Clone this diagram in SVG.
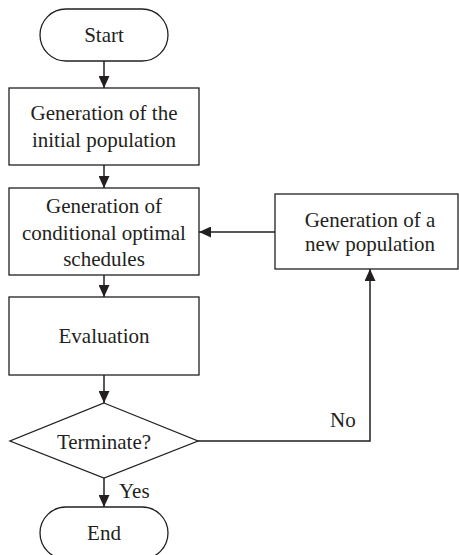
<svg xmlns="http://www.w3.org/2000/svg" width="459" height="555" viewBox="0 0 459 555">
<style>
.shape{fill:#fff;stroke:#231f20;stroke-width:1.3}
.t{font-family:"Liberation Serif","Times New Roman",serif;font-size:21px;fill:#231f20;text-anchor:middle}
.lbl{font-family:"Liberation Serif","Times New Roman",serif;font-size:21px;fill:#231f20}
.conn{fill:none;stroke:#231f20;stroke-width:1.5}
</style>
<defs>
<marker id="arr" markerUnits="userSpaceOnUse" markerWidth="12" markerHeight="11" refX="12" refY="5.5" orient="auto">
<path d="M0,0 L12,5.5 L0,11 z" fill="#231f20"/>
</marker>
</defs>
<rect width="459" height="555" fill="#fff"/>
<g id="connectors">
<line class="conn" x1="104" y1="61" x2="104" y2="88" marker-end="url(#arr)"/>
<line class="conn" x1="104" y1="165" x2="104" y2="188" marker-end="url(#arr)"/>
<line class="conn" x1="104" y1="275" x2="104" y2="297" marker-end="url(#arr)"/>
<line class="conn" x1="104" y1="375" x2="104" y2="403" marker-end="url(#arr)"/>
<line class="conn" x1="104" y1="478" x2="104" y2="507" marker-end="url(#arr)"/>
<polyline class="conn" points="198,441 370,441 370,269" marker-end="url(#arr)"/>
<line class="conn" x1="275" y1="232" x2="199" y2="232" marker-end="url(#arr)"/>
<text class="lbl" x="119" y="498">Yes</text>
<text class="lbl" x="330" y="427">No</text>
</g>
<g id="start">
<rect class="shape" x="40" y="9" width="128" height="52" rx="26" ry="26"/>
<text class="t" x="104" y="42">Start</text>
</g>
<g id="init">
<rect class="shape" x="9" y="88" width="190" height="77"/>
<text class="t" x="104" y="120">Generation of the</text>
<text class="t" x="104" y="147">initial population</text>
</g>
<g id="cond">
<rect class="shape" x="9" y="188" width="190" height="87"/>
<text class="t" x="104" y="213">Generation of</text>
<text class="t" x="104" y="240">conditional optimal</text>
<text class="t" x="104" y="266">schedules</text>
</g>
<g id="eval">
<rect class="shape" x="9" y="297" width="190" height="78"/>
<text class="t" x="104" y="343">Evaluation</text>
</g>
<g id="terminate">
<polygon class="shape" points="104,403 198,441 104,478 10,441"/>
<text class="t" x="104" y="449">Terminate?</text>
</g>
<g id="newpop">
<rect class="shape" x="275" y="194" width="183" height="75"/>
<text class="t" x="370" y="227">Generation of a</text>
<text class="t" x="370" y="251">new population</text>
</g>
<g id="end">
<rect class="shape" x="40" y="507" width="128" height="52" rx="26" ry="26"/>
<text class="t" x="104" y="540">End</text>
</g>
</svg>
